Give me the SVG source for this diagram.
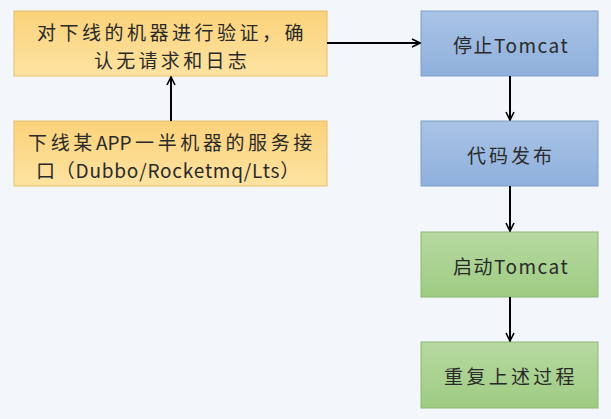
<svg xmlns="http://www.w3.org/2000/svg" width="611" height="419" viewBox="0 0 611 419">
<defs>
<linearGradient id="gO" x1="0" y1="0" x2="0" y2="1"><stop offset="0" stop-color="#fbd27a"/><stop offset="1" stop-color="#fde3a2"/></linearGradient>
<linearGradient id="gB" x1="0" y1="0" x2="0" y2="1"><stop offset="0" stop-color="#a9c3e6"/><stop offset="1" stop-color="#8fb0dc"/></linearGradient>
<linearGradient id="gG" x1="0" y1="0" x2="0" y2="1"><stop offset="0" stop-color="#b7d9a1"/><stop offset="1" stop-color="#9ecb82"/></linearGradient>
<marker id="ar" viewBox="0 0 10 10" refX="9" refY="5" markerWidth="10" markerHeight="10" markerUnits="userSpaceOnUse" orient="auto"><path d="M1,1 L9,5 L1,9" fill="none" stroke="#000" stroke-width="1.6"/></marker>
</defs>
<style>
.o{fill:url(#gO);stroke:#e8bd6a;stroke-width:1}
.b{fill:url(#gB);stroke:#7f9fc8;stroke-width:1}
.g{fill:url(#gG);stroke:#8cb874;stroke-width:1}
text{font-family:"Noto Sans CJK SC","Noto Sans",sans-serif;font-size:19px;fill:#2a2a2a;text-anchor:middle;dominant-baseline:central;letter-spacing:3.3px}
.c{fill:none;stroke:#000;stroke-width:2;marker-end:url(#ar)}
</style>
<rect width="611" height="419" fill="#f3f6fb"/>
<g id="n1"><rect class="o" x="14" y="11" width="313" height="65"/><text x="172" y="31.5" style="letter-spacing:3.5px">对下线的机器进行验证，确</text><text x="172" y="59.5">认无请求和日志</text></g>
<g id="n2"><rect class="o" x="14" y="121" width="313" height="65"/><text x="172" y="141" style="letter-spacing:3.6px">下线某<tspan style="letter-spacing:0">AP</tspan>P一半机器的服务接</text><text x="168" y="169" style="letter-spacing:0.8px">口（Dubbo/Rocketmq/Lts）</text></g>
<g id="n3"><rect class="b" x="421" y="11" width="177" height="65"/><text x="511" y="44" style="letter-spacing:1.5px">停止Tomcat</text></g>
<g id="n4"><rect class="b" x="421" y="121" width="177" height="65"/><text x="511" y="154" style="letter-spacing:3px">代码发布</text></g>
<g id="n5"><rect class="g" x="421" y="232" width="177" height="65"/><text x="511" y="265" style="letter-spacing:1.5px">启动Tomcat</text></g>
<g id="n6"><rect class="g" x="421" y="342" width="177" height="66"/><text x="511" y="375">重复上述过程</text></g>
<g id="connectors">
<line class="c" x1="171" y1="121" x2="171" y2="77"/>
<line class="c" x1="327" y1="43" x2="420" y2="43"/>
<line class="c" x1="510" y1="76" x2="510" y2="120"/>
<line class="c" x1="510" y1="186" x2="510" y2="231"/>
<line class="c" x1="510" y1="297" x2="510" y2="341"/>
</g>
</svg>
